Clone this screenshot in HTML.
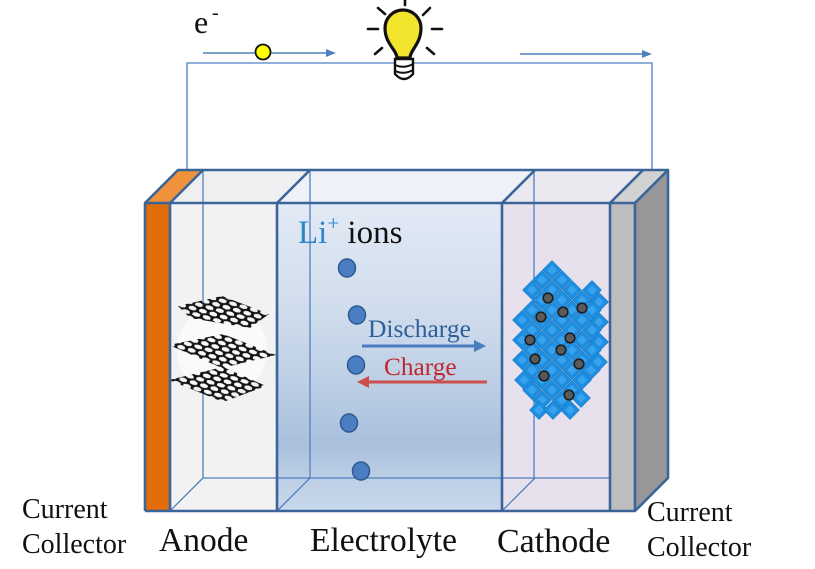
<!DOCTYPE html>
<html><head><meta charset="utf-8"><style>
html,body{margin:0;padding:0;background:#fff;}
svg{display:block;}
text{font-family:"Liberation Serif","DejaVu Serif",serif;}
</style></head><body>
<svg width="815" height="569" viewBox="0 0 815 569" xmlns="http://www.w3.org/2000/svg">
<defs>
<linearGradient id="elg" x1="0" y1="203" x2="0" y2="511" gradientUnits="userSpaceOnUse">
<stop offset="0" stop-color="#e2eaf5"/>
<stop offset="0.3" stop-color="#d3dfee"/>
<stop offset="0.6" stop-color="#bccee5"/>
<stop offset="0.78" stop-color="#a9c0dd"/>
<stop offset="0.9" stop-color="#bdcfe6"/>
<stop offset="1" stop-color="#c9d8eb"/>
</linearGradient>
<pattern id="hc" patternUnits="userSpaceOnUse" width="16" height="12" patternTransform="rotate(16) scale(1.35,0.85)">
<path d="M0,2 L4,0 L8,2 L12,0 L16,2 M0,2 V6 M8,2 V6 M16,2 V6 M0,6 L4,8 L8,6 L12,8 L16,6 M4,8 V12 M12,8 V12" fill="none" stroke="#1a1a1a" stroke-width="2.2" stroke-linejoin="round" stroke-linecap="round"/>
<g fill="#111"><circle cx="4" cy="0" r="1.6"/><circle cx="12" cy="0" r="1.6"/><circle cx="8" cy="2" r="1.6"/><circle cx="0" cy="6" r="1.6"/><circle cx="16" cy="6" r="1.6"/><circle cx="4" cy="8" r="1.6"/><circle cx="12" cy="8" r="1.6"/><circle cx="4" cy="12" r="1.6"/><circle cx="12" cy="12" r="1.6"/></g>
</pattern>
<g id="dm"><polygon points="0,-9.4 9.4,0 0,9.4 -9.4,0" fill="#1e8fe0" stroke="#1a7ac6" stroke-width="0.6"/><polygon points="0,-4.8 4.8,0 0,4.8 -4.8,0" fill="#38a2ee"/></g>
</defs>

<!-- wire -->
<polyline points="187,170 187,63 652,63 652,170" fill="none" stroke="#6b96cf" stroke-width="1.6"/>
<!-- electron arrows -->
<line x1="203" y1="53" x2="328" y2="53" stroke="#4f81bd" stroke-width="1.6"/>
<polygon points="336,53 326,49 326,57" fill="#4f81bd"/>
<line x1="520" y1="54" x2="644" y2="54" stroke="#4f81bd" stroke-width="1.6"/>
<polygon points="652,54 642,50 642,58" fill="#4f81bd"/>
<circle cx="263" cy="52" r="7.5" fill="#ffff00" stroke="#111" stroke-width="1.8"/>
<text x="194" y="33" font-size="32" fill="#111">e</text>
<text x="212" y="19" font-size="20" fill="#111">-</text>

<!-- bulb -->
<g stroke="#111" stroke-width="2.6" stroke-linecap="round" fill="none">
<line x1="405" y1="0" x2="405" y2="5"/>
<line x1="378" y1="8" x2="385" y2="14"/>
<line x1="368" y1="29" x2="378" y2="29"/>
<line x1="375" y1="54" x2="382" y2="48"/>
<line x1="423" y1="15" x2="430" y2="8"/>
<line x1="432" y1="29" x2="442" y2="29"/>
<line x1="427" y1="48" x2="434" y2="54"/>
</g>
<path d="M397,58 C397,50 385,44 385,28 A18,18 0 1 1 421,28 C421,44 410,50 410,58 Z" fill="#f3e52e" stroke="#111" stroke-width="3.2"/>
<path d="M395,59 L413,59 L413,74 Q404,84 395,74 Z" fill="#fff" stroke="#111" stroke-width="2.4"/>
<path d="M395,65 Q404,69 413,64 M395,71 Q404,75 413,70" fill="none" stroke="#111" stroke-width="2"/>

<!-- top faces -->
<polygon points="145,203 178,170 203,170 170,203" fill="#f0913c"/>
<polygon points="170,203 203,170 310,170 277,203" fill="#efeff1"/>
<polygon points="277,203 310,170 535,170 502,203" fill="#eef2f8"/>
<polygon points="502,203 535,170 643,170 610,203" fill="#ebe8ef"/>
<polygon points="610,203 643,170 668,170 635,203" fill="#d2d2d2"/>
<!-- right side -->
<polygon points="635,203 668,170 668,478 635,511" fill="#979797"/>
<!-- front faces -->
<rect x="145" y="203" width="25" height="308" fill="#e36c0a"/>
<rect x="170" y="203" width="107" height="308" fill="#f2f2f2"/>
<rect x="277" y="203" width="225" height="308" fill="url(#elg)"/>
<rect x="502" y="203" width="108" height="308" fill="#e6e1ec"/>
<rect x="610" y="203" width="25" height="308" fill="#bdbdbd"/>

<!-- back thin lines -->
<g stroke="#4f81bd" stroke-width="1.3" fill="none">
<line x1="203" y1="170" x2="203" y2="478"/>
<line x1="310" y1="170" x2="310" y2="478"/>
<line x1="534" y1="170" x2="534" y2="478"/>
<line x1="203" y1="478" x2="610" y2="478"/>
<line x1="170" y1="511" x2="203" y2="478"/>
<line x1="277" y1="511" x2="310" y2="478"/>
<line x1="502" y1="511" x2="535" y2="478"/>
</g>

<!-- graphite -->
<g>
<ellipse cx="222" cy="350" rx="45" ry="45" fill="#fafafa"/>
<polygon points="178,306 222,296 269,314 250,328 190,318" fill="url(#hc)"/>
<polygon points="169,345 223,334 276,355 222,368" fill="url(#hc)"/>
<polygon points="169,380 223,367 266,386 223,402" fill="url(#hc)"/>
</g>

<!-- cathode crystal -->
<g>
<use href="#dm" x="552" y="270"/>
<use href="#dm" x="542" y="280"/><use href="#dm" x="562" y="280"/>
<use href="#dm" x="532" y="290"/><use href="#dm" x="552" y="290"/><use href="#dm" x="572" y="290"/><use href="#dm" x="592" y="290"/>
<use href="#dm" x="542" y="300"/><use href="#dm" x="562" y="300"/><use href="#dm" x="582" y="300"/><use href="#dm" x="599" y="302"/>
<use href="#dm" x="532" y="310"/><use href="#dm" x="552" y="310"/><use href="#dm" x="572" y="310"/><use href="#dm" x="592" y="310"/>
<use href="#dm" x="522" y="320"/><use href="#dm" x="542" y="320"/><use href="#dm" x="562" y="320"/><use href="#dm" x="582" y="320"/><use href="#dm" x="599" y="322"/>
<use href="#dm" x="532" y="330"/><use href="#dm" x="552" y="330"/><use href="#dm" x="572" y="330"/><use href="#dm" x="592" y="330"/>
<use href="#dm" x="522" y="340"/><use href="#dm" x="542" y="340"/><use href="#dm" x="562" y="340"/><use href="#dm" x="582" y="340"/><use href="#dm" x="599" y="342"/>
<use href="#dm" x="532" y="350"/><use href="#dm" x="552" y="350"/><use href="#dm" x="572" y="350"/><use href="#dm" x="592" y="350"/>
<use href="#dm" x="522" y="360"/><use href="#dm" x="542" y="360"/><use href="#dm" x="562" y="360"/><use href="#dm" x="582" y="360"/><use href="#dm" x="598" y="362"/>
<use href="#dm" x="532" y="370"/><use href="#dm" x="552" y="370"/><use href="#dm" x="572" y="370"/><use href="#dm" x="591" y="370"/>
<use href="#dm" x="524" y="380"/><use href="#dm" x="542" y="380"/><use href="#dm" x="562" y="380"/><use href="#dm" x="582" y="380"/>
<use href="#dm" x="532" y="390"/><use href="#dm" x="552" y="390"/><use href="#dm" x="572" y="390"/>
<use href="#dm" x="542" y="400"/><use href="#dm" x="562" y="400"/><use href="#dm" x="581" y="398"/>
<use href="#dm" x="539" y="410"/><use href="#dm" x="553" y="410"/><use href="#dm" x="570" y="410"/>
</g>
<g fill="#5a5a5a" stroke="#1e1e1e" stroke-width="1.6">
<circle cx="548" cy="298" r="4.8"/><circle cx="582" cy="308" r="4.8"/>
<circle cx="541" cy="317" r="4.8"/><circle cx="563" cy="312" r="4.8"/>
<circle cx="530" cy="340" r="4.8"/><circle cx="570" cy="338" r="4.8"/>
<circle cx="561" cy="350" r="4.8"/><circle cx="535" cy="359" r="4.8"/>
<circle cx="579" cy="364" r="4.8"/><circle cx="544" cy="376" r="4.8"/>
<circle cx="569" cy="395" r="4.8"/>
</g>

<!-- ions -->
<g fill="#4b7dc2" stroke="#2d5a94" stroke-width="1.5">
<ellipse cx="347" cy="268" rx="8.5" ry="9"/>
<ellipse cx="357" cy="315" rx="8.5" ry="9"/>
<ellipse cx="356" cy="365" rx="8.5" ry="9"/>
<ellipse cx="349" cy="423" rx="8.5" ry="9"/>
<ellipse cx="361" cy="471" rx="8.5" ry="9"/>
</g>

<text x="298" y="243" font-size="33"><tspan fill="#2e86c8">Li</tspan><tspan fill="#2e86c8" font-size="21" dy="-13">+</tspan><tspan fill="#111" dy="13"> ions</tspan></text>

<text x="368" y="337" font-size="25.5" fill="#2f5f9a">Discharge</text>
<line x1="362" y1="346" x2="475" y2="346" stroke="#4a7dbf" stroke-width="3"/>
<polygon points="486,346 474,340 474,352" fill="#4a7dbf"/>
<text x="384" y="375" font-size="25.3" fill="#c0272d">Charge</text>
<line x1="487" y1="382" x2="368" y2="382" stroke="#c9504d" stroke-width="3"/>
<polygon points="357,382 369,376 369,388" fill="#c9504d"/>

<!-- thick outlines -->
<g stroke="#3b6598" stroke-width="2.6" fill="none" stroke-linejoin="round">
<polyline points="145,511 145,203 178,170 668,170 668,478 635,511 145,511"/>
<line x1="145" y1="203" x2="635" y2="203"/>
<line x1="170" y1="203" x2="203" y2="170"/>
<line x1="277" y1="203" x2="310" y2="170"/>
<line x1="502" y1="203" x2="535" y2="170"/>
<line x1="610" y1="203" x2="643" y2="170"/>
<line x1="635" y1="203" x2="668" y2="170"/>
<line x1="170" y1="203" x2="170" y2="511"/>
<line x1="277" y1="203" x2="277" y2="511"/>
<line x1="502" y1="203" x2="502" y2="511"/>
<line x1="610" y1="203" x2="610" y2="511"/>
<line x1="635" y1="203" x2="635" y2="511"/>
</g>

<!-- labels -->
<g fill="#111">
<text x="22" y="518" font-size="28">Current</text>
<text x="22" y="553" font-size="28">Collector</text>
<text x="159" y="551" font-size="33.5">Anode</text>
<text x="310" y="551" font-size="33.5">Electrolyte</text>
<text x="497" y="552" font-size="34">Cathode</text>
<text x="647" y="521" font-size="28">Current</text>
<text x="647" y="556" font-size="28">Collector</text>
</g>
</svg>
</body></html>
